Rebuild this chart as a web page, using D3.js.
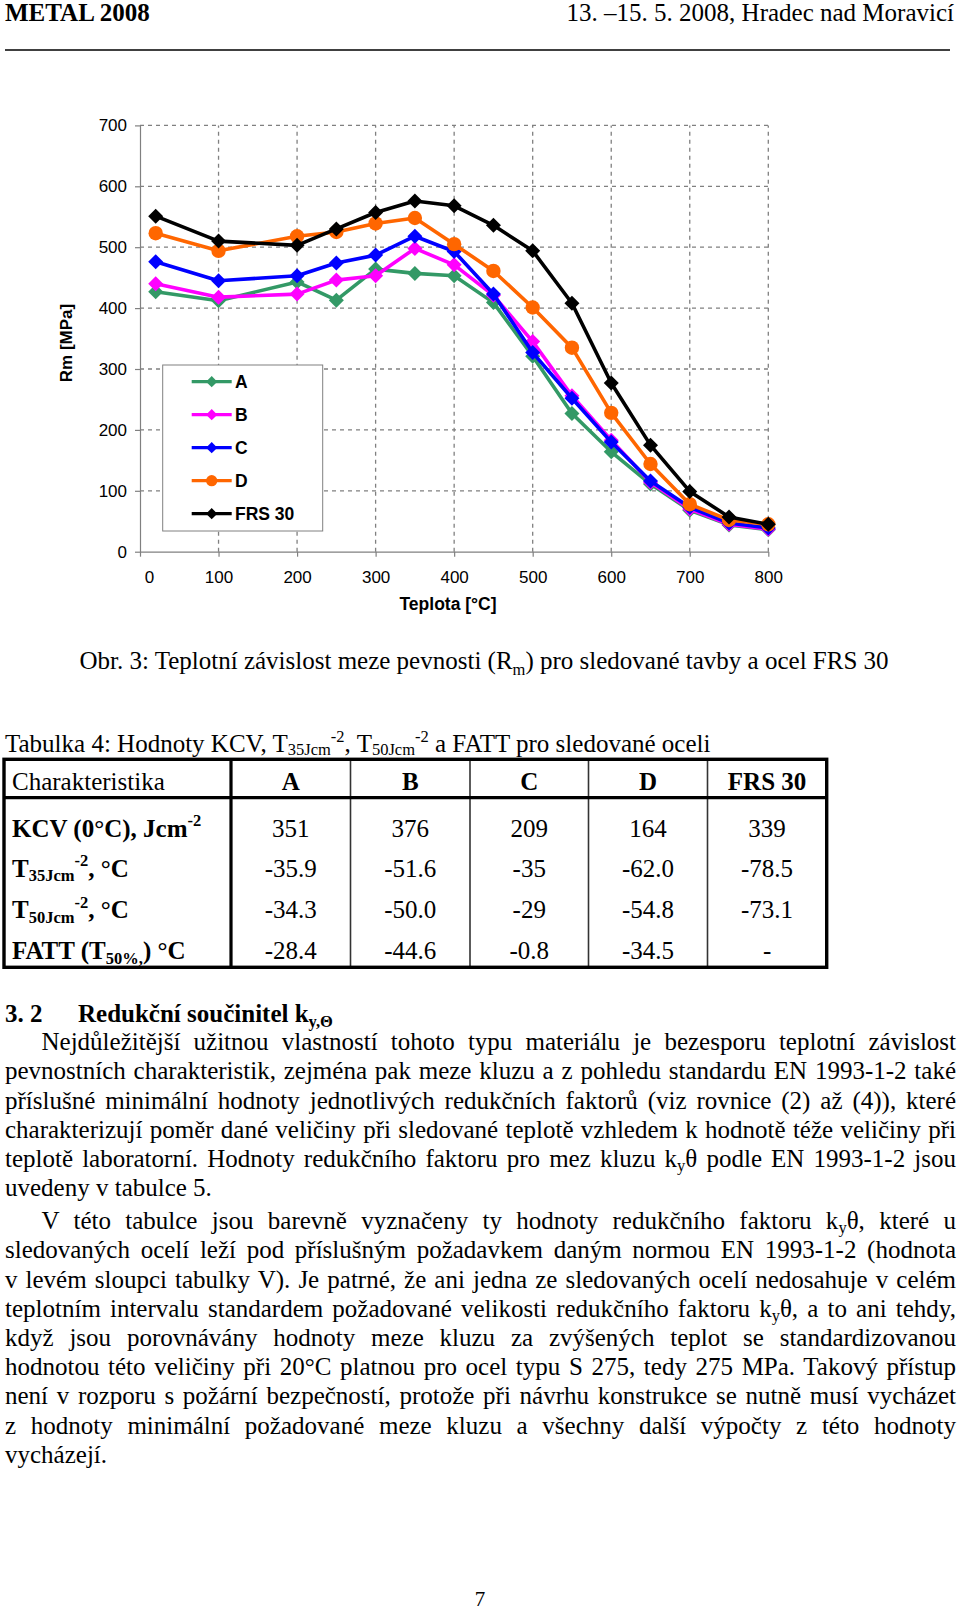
<!DOCTYPE html>
<html>
<head>
<meta charset="utf-8">
<script src="https://cdn.jsdelivr.net/npm/d3@7"></script>
<style>
body { margin: 0; background: #fff; }
#page { position: relative; width: 960px; height: 1613px; overflow: hidden; font-family: "Liberation Serif", "Times New Roman", serif; color: #000; }
#page svg { position: absolute; left: 0; top: 0; }
.ln { position: absolute; left: 5px; width: 951px; font-size: 25px; line-height: 29px; white-space: nowrap; }
.ln.j { text-align: justify; text-align-last: justify; white-space: normal; }
.ln sub { font-size: 0.66em; vertical-align: -0.22em; line-height: 0; }
</style>
</head>
<body>
<div id="page"></div>
<script>
// teplota [°C]
var temps = [20, 100, 200, 250, 300, 350, 400, 450, 500, 550, 600, 650, 700, 750, 800];

// Rm [MPa] pro jednotlive tavby
var rm_A   = [427, 412, 443, 413, 464, 457, 453, 409, 321, 227, 164, 111, 68, 44, 36];
var rm_B   = [440, 418, 423, 446, 453, 498, 471, 421, 345, 256, 183, 114, 70, 45, 37];
var rm_C   = [476, 445, 453, 474, 487, 518, 493, 423, 327, 252, 180, 116, 73, 47, 39];
var rm_D   = [523, 494, 518, 525, 539, 548, 505, 461, 401, 335, 228, 144, 78, 52, 45];
var rm_FRS = [551, 510, 503, 530, 557, 576, 568, 536, 494, 408, 277, 175, 99, 57, 45];

var series_names = ['A', 'B', 'C', 'D', 'FRS 30'];
var x_ticks = [0, 100, 200, 300, 400, 500, 600, 700, 800];
var y_ticks = [0, 100, 200, 300, 400, 500, 600, 700];

// tabulka 4
var table_cols = ['A', 'B', 'C', 'D', 'FRS 30'];
var kcv  = ['351', '376', '209', '164', '339'];
var t35  = ['-35.9', '-51.6', '-35', '-62.0', '-78.5'];
var t50  = ['-34.3', '-50.0', '-29', '-54.8', '-73.1'];
var fatt = ['-28.4', '-44.6', '-0.8', '-34.5', '-'];

var para1 = [
  'Nejdůležitější užitnou vlastností tohoto typu materiálu je bezesporu teplotní závislost',
  'pevnostních charakteristik, zejména pak meze kluzu a z pohledu standardu EN 1993-1-2 také',
  'příslušné minimální hodnoty jednotlivých redukčních faktorů (viz rovnice (2) až (4)), které',
  'charakterizují poměr dané veličiny při sledované teplotě vzhledem k hodnotě téže veličiny při',
  'teplotě laboratorní. Hodnoty redukčního faktoru pro mez kluzu k<sub>y</sub>θ podle EN 1993-1-2 jsou',
  'uvedeny v tabulce 5.'
];
var para2 = [
  'V této tabulce jsou barevně vyznačeny ty hodnoty redukčního faktoru k<sub>y</sub>θ, které u',
  'sledovaných ocelí leží pod příslušným požadavkem daným normou EN 1993-1-2 (hodnota',
  'v levém sloupci tabulky V). Je patrné, že ani jedna ze sledovaných ocelí nedosahuje v celém',
  'teplotním intervalu standardem požadované velikosti redukčního faktoru k<sub>y</sub>θ, a to ani tehdy,',
  'když jsou porovnávány hodnoty meze kluzu za zvýšených teplot se standardizovanou',
  'hodnotou této veličiny při 20°C platnou pro ocel typu S 275, tedy 275 MPa. Takový přístup',
  'není v rozporu s požární bezpečností, protože při návrhu konstrukce se nutně musí vycházet',
  'z hodnoty minimální požadované meze kluzu a všechny další výpočty z této hodnoty',
  'vycházejí.'
];

var colors  = ['#339966', '#ff00ff', '#0000ff', '#ff6600', '#000000'];
var markers = ['diamond', 'diamond', 'diamond', 'circle', 'diamond'];

var page = d3.select('#page');
var svg = page.append('svg').attr('width', 960).attr('height', 1613);

var serif = '"Liberation Serif", "Times New Roman", serif';
var sans  = '"Liberation Sans", Arial, sans-serif';

// text with sub/superscripts: parts = [[text, 'sub'|'sup'|undefined], ...]
function rich(sel, parts, size, sub_k) {
  var off = 0;
  var k = sub_k || 0.22;
  parts.forEach((p) => {
    var target = p[1] === 'sub' ? size * k : (p[1] === 'sup' ? -size * 0.42 : 0);
    sel.append('tspan')
      .attr('dy', target - off)
      .style('font-size', p[1] ? (size * 0.66) + 'px' : null)
      .text(p[0]);
    off = target;
  });
  return sel;
}

function marker_path(kind, r) {
  if (kind === 'circle') return d3.symbol(d3.symbolCircle, Math.PI * r * r)();
  return `M0,${-r}L${r},0L0,${r}L${-r},0Z`;
}

/* ---------- header ---------- */
svg.append('text').attr('x', 5).attr('y', 21)
  .style('font-family', serif).style('font-size', '25px').style('font-weight', 'bold')
  .text('METAL 2008');
svg.append('text').attr('x', 954).attr('y', 21).attr('text-anchor', 'end')
  .style('font-family', serif).style('font-size', '25px')
  .text('13. –15. 5. 2008, Hradec nad Moravicí');
svg.append('line').attr('x1', 5).attr('x2', 950).attr('y1', 50).attr('y2', 50)
  .style('stroke', '#000').style('stroke-width', 1.6);

/* ---------- chart ---------- */
var x = d3.scaleLinear().domain([0, 800]).range([140, 768.3]);
var y = d3.scaleLinear().domain([0, 700]).range([551.7, 125.4]);

var gph = svg.append('g').attr('class', 'chart');

gph.selectAll('line.hgrid')
  .data(y_ticks.filter((v) => v > 0)).enter()
  .append('line')
  .attr('class', 'hgrid')
  .attr('x1', x(0)).attr('x2', x(800))
  .attr('y1', (d) => y(d)).attr('y2', (d) => y(d))
  .style('stroke', '#808080').style('stroke-width', 1.3).style('stroke-dasharray', '4,4');

gph.selectAll('line.vgrid')
  .data(x_ticks.filter((v) => v > 0)).enter()
  .append('line')
  .attr('class', 'vgrid')
  .attr('x1', (d) => x(d)).attr('x2', (d) => x(d))
  .attr('y1', y(0)).attr('y2', y(700))
  .style('stroke', '#808080').style('stroke-width', 1.3).style('stroke-dasharray', '4,4');

var y_axis = gph.append('g')
  .attr('transform', `translate(${x(0)},0)`)
  .call(d3.axisLeft(y).tickValues(y_ticks).tickSize(5).tickSizeOuter(0).tickPadding(8).tickFormat(d3.format('d')));

var x_axis = gph.append('g')
  .attr('transform', `translate(0,${y(0)})`)
  .call(d3.axisBottom(x).tickValues(x_ticks).tickSize(5).tickSizeOuter(0).tickPadding(14).tickFormat(d3.format('d')));

[y_axis, x_axis].forEach((a) => {
  a.select('.domain').style('stroke', '#808080').style('stroke-width', 1.2);
  a.selectAll('.tick line').style('stroke', '#808080').style('stroke-width', 1.2);
  a.selectAll('.tick text').style('font-family', sans).style('font-size', '17px').style('fill', '#000');
});
x_axis.selectAll('.tick text').filter((d) => d === 0).attr('dx', 9);

gph.append('text')
  .attr('x', 448).attr('y', 610).attr('text-anchor', 'middle')
  .style('font-family', sans).style('font-size', '17.5px').style('font-weight', 'bold')
  .text('Teplota [°C]');

gph.append('text')
  .attr('transform', 'translate(72,343) rotate(-90)').attr('text-anchor', 'middle')
  .style('font-family', sans).style('font-size', '17px').style('font-weight', 'bold')
  .text('Rm [MPa]');

var series = [rm_A, rm_B, rm_C, rm_D, rm_FRS].map((vals, i) => ({
  name: series_names[i],
  color: colors[i],
  marker: markers[i],
  points: temps.map((t, j) => ({ t: t, v: vals[j] }))
}));

var line = d3.line().x((d) => x(d.t)).y((d) => y(d.v));

var layer = gph.selectAll('g.series')
  .data(series).enter()
  .append('g').attr('class', 'series');

layer.append('path')
  .attr('d', (d) => line(d.points))
  .style('fill', 'none')
  .style('stroke', (d) => d.color)
  .style('stroke-width', 3.6)
  .style('stroke-linejoin', 'round');

layer.each(function(s) {
  d3.select(this).selectAll('path.pt')
    .data(s.points).enter()
    .append('path')
    .attr('class', 'pt')
    .attr('transform', (d) => `translate(${x(d.t)},${y(d.v)})`)
    .attr('d', marker_path(s.marker, s.marker === 'circle' ? 7.2 : 7.5))
    .style('fill', s.color);
});

// legend
var lg = gph.append('g').attr('class', 'legend');
lg.append('rect')
  .attr('x', 162.7).attr('y', 365).attr('width', 160).attr('height', 166)
  .style('fill', '#fff').style('stroke', '#808080').style('stroke-width', 1);

var lrow = lg.selectAll('g.lrow')
  .data(series).enter()
  .append('g').attr('class', 'lrow')
  .attr('transform', (d, i) => `translate(0,${381.7 + i * 33})`);

lrow.append('line')
  .attr('x1', 191.7).attr('x2', 231.7).attr('y1', 0).attr('y2', 0)
  .style('stroke', (d) => d.color).style('stroke-width', 3.2);
lrow.append('path')
  .attr('transform', 'translate(211.7,0)')
  .attr('d', (d) => marker_path(d.marker, 5.6))
  .style('fill', (d) => d.color);
lrow.append('text')
  .attr('x', 235).attr('y', 6.5)
  .style('font-family', sans).style('font-size', '17.5px').style('font-weight', 'bold')
  .text((d) => d.name);

/* ---------- caption ---------- */
rich(svg.append('text').attr('x', 484).attr('y', 669).attr('text-anchor', 'middle')
  .style('font-family', serif).style('font-size', '25px'),
  [['Obr. 3: Teplotní závislost meze pevnosti (R'], ['m', 'sub'], [') pro sledované tavby a ocel FRS 30']], 25);

/* ---------- table ---------- */
rich(svg.append('text').attr('x', 5).attr('y', 752).style('font-family', serif).style('font-size', '25px'),
  [['Tabulka 4: Hodnoty KCV, T'], ['35Jcm', 'sub'], ['-2', 'sup'], [', T'], ['50Jcm', 'sub'], ['-2', 'sup'],
   [' a FATT pro sledované oceli']], 25, 0.12);

var col_x = [4, 231, 350.5, 470, 588.5, 707.5, 826.7];
var tb_top = 759.3, tb_head = 797.7, tb_bottom = 967.3;
var tb = svg.append('g').attr('class', 'table');

tb.selectAll('line.inner')
  .data(col_x.slice(2, 6)).enter()
  .append('line')
  .attr('x1', (d) => d).attr('x2', (d) => d).attr('y1', tb_top).attr('y2', tb_bottom)
  .style('stroke', '#333').style('stroke-width', 1.6);
tb.append('line').attr('x1', col_x[1]).attr('x2', col_x[1]).attr('y1', tb_top).attr('y2', tb_bottom)
  .style('stroke', '#000').style('stroke-width', 3.2);
tb.append('line').attr('x1', col_x[0]).attr('x2', col_x[6]).attr('y1', tb_head).attr('y2', tb_head)
  .style('stroke', '#000').style('stroke-width', 3.2);
tb.append('rect')
  .attr('x', col_x[0]).attr('y', tb_top).attr('width', col_x[6] - col_x[0]).attr('height', tb_bottom - tb_top)
  .style('fill', 'none').style('stroke', '#000').style('stroke-width', 3.4);

var col_c = table_cols.map((c, i) => (col_x[i + 1] + col_x[i + 2]) / 2);

tb.append('text').attr('x', 12).attr('y', 790)
  .style('font-family', serif).style('font-size', '25px').text('Charakteristika');
tb.selectAll('text.colh')
  .data(table_cols).enter()
  .append('text').attr('class', 'colh')
  .attr('x', (d, i) => col_c[i]).attr('y', 790).attr('text-anchor', 'middle')
  .style('font-family', serif).style('font-size', '25px').style('font-weight', 'bold')
  .text((d) => d);

var rows = [
  { label: [['KCV (0°C), Jcm'], ['-2', 'sup']], vals: kcv, base: 836.7 },
  { label: [['T'], ['35Jcm', 'sub'], ['-2', 'sup'], [', °C']], vals: t35, base: 876.5 },
  { label: [['T'], ['50Jcm', 'sub'], ['-2', 'sup'], [', °C']], vals: t50, base: 918 },
  { label: [['FATT (T'], ['50%,', 'sub'], [') °C']], vals: fatt, base: 959 }
];

rows.forEach((r) => {
  rich(tb.append('text').attr('x', 12).attr('y', r.base)
    .style('font-family', serif).style('font-size', '25px').style('font-weight', 'bold'), r.label, 25, 0.18);
  tb.selectAll(null)
    .data(r.vals).enter()
    .append('text')
    .attr('x', (d, i) => col_c[i]).attr('y', r.base).attr('text-anchor', 'middle')
    .style('font-family', serif).style('font-size', '25px')
    .text((d) => d);
});

/* ---------- section 3.2 ---------- */
svg.append('text').attr('x', 5).attr('y', 1021.7)
  .style('font-family', serif).style('font-size', '25px').style('font-weight', 'bold')
  .text('3. 2');
rich(svg.append('text').attr('x', 78).attr('y', 1021.7)
  .style('font-family', serif).style('font-size', '25px').style('font-weight', 'bold'),
  [['Redukční součinitel k'], ['y,Θ', 'sub']], 25);

var line_h = 29.2;
function paragraph(lines, first_base) {
  lines.forEach((t, i) => {
    var last = i === lines.length - 1;
    page.append('div')
      .attr('class', last ? 'ln' : 'ln j')
      .style('top', (first_base + i * line_h - 22.9) + 'px')
      .style('text-indent', i === 0 ? '36.5px' : '0px')
      .html(t);
  });
}

paragraph(para1, 1050);
paragraph(para2, 1229);

/* ---------- page number ---------- */
svg.append('text').attr('x', 480).attr('y', 1606).attr('text-anchor', 'middle')
  .style('font-family', serif).style('font-size', '21px')
  .text('7');
</script>
</body>
</html>
